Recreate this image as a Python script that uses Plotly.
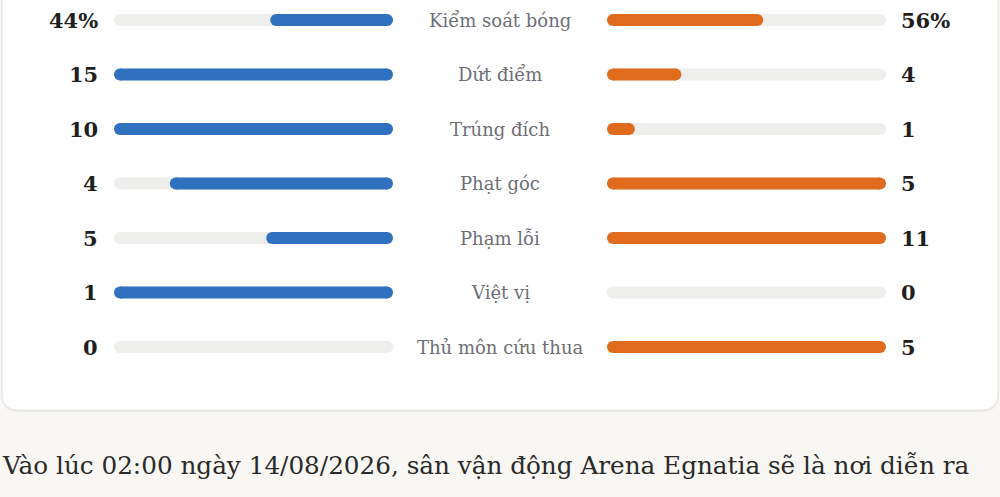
import plotly.graph_objects as go

# ---- data ----
stat_labels = ["Kiểm soát bóng", "Dứt điểm", "Trúng đích", "Phạt góc", "Phạm lỗi", "Việt vị", "Thủ môn cứu thua"]
home_values = [44, 15, 10, 4, 5, 1, 0]
away_values = [56, 4, 1, 5, 11, 0, 5]
is_percent = [True, False, False, False, False, False, False]
paragraph = "Vào lúc 02:00 ngày 14/08/2026, sân vận động Arena Egnatia sẽ là nơi diễn ra"

# ---- styles ----
W, H = 1000, 497
BLUE = "#2f71bf"
ORANGE = "#e06b1d"
TRACK = "#eeefec"
PAGE_BG = "#f8f7f3"
LABEL_COL = "#6e6e76"
VALUE_COL = "#1f1f1f"
SERIF = "DejaVu Serif"
ROW_PX = 54.5
BAR_PX = 12
TRACK_PX = 279

def frac(v, other, pct):
    if pct:
        return v / 100.0
    m = max(v, other)
    return v / m if m else 0.0

home_frac = [frac(h, a, p) for h, a, p in zip(home_values, away_values, is_percent)]
away_frac = [frac(a, h, p) for h, a, p in zip(home_values, away_values, is_percent)]
fmt = lambda v, p: f"{v}%" if p else f"{v}"

r_off = (BAR_PX / 2) / TRACK_PX  # half bar height in axis units (round caps)

fig = go.Figure()

def pill(xaxis, fracs, color):
    xs, ys = [], []
    for lab, f in zip(stat_labels, fracs):
        if f <= 0:
            continue
        xs += [r_off, max(f - r_off, r_off), None]
        ys += [lab, lab, None]
    fig.add_scatter(x=xs, y=ys, mode="lines+markers", hoverinfo="skip", showlegend=False,
                    xaxis=xaxis, yaxis="y", connectgaps=False,
                    line=dict(color=color, width=BAR_PX),
                    marker=dict(color=color, size=BAR_PX, line_width=0))

full = [1.0] * len(stat_labels)
pill("x", full, TRACK)
pill("x2", full, TRACK)
pill("x", home_frac, BLUE)
pill("x2", away_frac, ORANGE)

ann = []
for lab, h, a, p in zip(stat_labels, home_values, away_values, is_percent):
    ann.append(dict(x=100 / W, y=lab, xref="paper", yref="y", text=f"<b>{fmt(h, p)}</b>",
                    xanchor="right", yanchor="middle", showarrow=False,
                    font=dict(family=SERIF, size=21, color=VALUE_COL)))
    ann.append(dict(x=899 / W, y=lab, xref="paper", yref="y", text=f"<b>{fmt(a, p)}</b>",
                    xanchor="left", yanchor="middle", showarrow=False,
                    font=dict(family=SERIF, size=21, color=VALUE_COL)))
    ann.append(dict(x=0.5, y=lab, xref="paper", yref="y", text=lab,
                    xanchor="center", yanchor="middle", showarrow=False,
                    font=dict(family=SERIF, size=18, color=LABEL_COL)))
ann.append(dict(x=0, y=1 - 465 / H, xref="paper", yref="paper", text=paragraph,
                xanchor="left", yanchor="middle", showarrow=False,
                font=dict(family=SERIF, size=24.7, color="#2a2a2a")))

def rrect(x0, y0, x1, y1, r):
    px = lambda x: x / W
    py = lambda y: 1 - y / H
    rx, ry = r / W, r / H
    X0, X1, Y0, Y1 = px(x0), px(x1), py(y0), py(y1)
    return (f"M{X0+rx},{Y0} L{X1-rx},{Y0} Q{X1},{Y0} {X1},{Y0-ry} "
            f"L{X1},{Y1+ry} Q{X1},{Y1} {X1-rx},{Y1} L{X0+rx},{Y1} "
            f"Q{X0},{Y1} {X0},{Y1+ry} L{X0},{Y0-ry} Q{X0},{Y0} {X0+rx},{Y0} Z")

shapes = [
    dict(type="path", xref="paper", yref="paper", path=rrect(1, -30, 999, 412, 18),
         fillcolor="rgba(0,0,0,0.05)", line_width=0, layer="below"),
    dict(type="path", xref="paper", yref="paper", path=rrect(2, -30, 998, 410, 16),
         fillcolor="#ffffff", line=dict(color="#e8e8e6", width=1), layer="below"),
]

y0 = -20 / ROW_PX
y1 = (H - 20) / ROW_PX
fig.update_layout(
    width=W, height=H, margin=dict(l=0, r=0, t=0, b=0),
    paper_bgcolor=PAGE_BG, plot_bgcolor="rgba(0,0,0,0)",
    xaxis=dict(domain=[114 / W, 393 / W], range=[1, 0], visible=False, fixedrange=True),
    xaxis2=dict(domain=[607 / W, 886 / W], range=[0, 1], visible=False, fixedrange=True),
    yaxis=dict(range=[y1, y0], visible=False, fixedrange=True,
               categoryorder="array", categoryarray=stat_labels),
    annotations=ann, shapes=shapes,
)
fig.write_html("out.html", config={"displayModeBar": False},
               post_script="document.body.style.margin='0';document.body.style.background='%s';" % PAGE_BG)
